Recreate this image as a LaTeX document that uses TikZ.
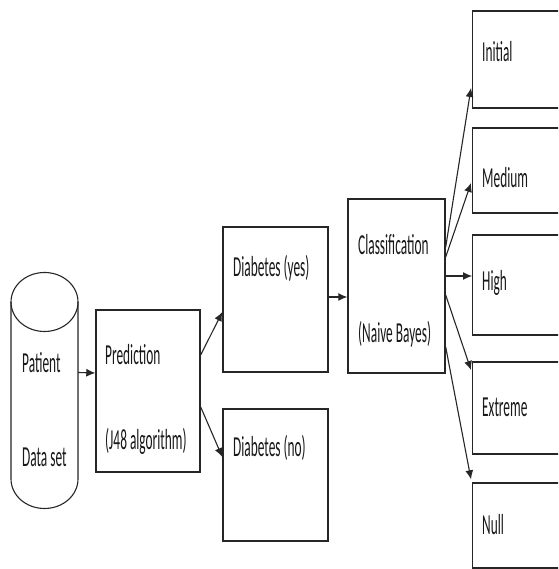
\documentclass[tikz,border=0pt]{standalone}
\usepackage{fontspec}
\setmainfont{Carlito}[FakeStretch=0.46]
\usetikzlibrary{arrows.meta}
\tikzset{
  box/.style={draw=black!85, line width=1.4pt, rectangle, inner sep=0pt},
  lbl/.style={anchor=base west, inner sep=0pt, text=black!90, font=\fontsize{29}{34}\selectfont},
  conn/.style={draw=black!85, line width=1.1pt, -{Latex[length=9pt,width=8pt]}},
}
\begin{document}
\begin{tikzpicture}[x=1pt,y=1pt]
\clip (0,0) rectangle (558,569);
\fill[white] (0,0) rectangle (558,569);
% cylinder
\node[inner sep=0pt, minimum width=67pt, minimum height=235pt] (pd) at (44.5,178.5) {};
\draw[black!85, line width=1.1pt] (11,267) -- (11,90) arc[start angle=180, end angle=360, x radius=33.5, y radius=29.5] -- (78,267);
\draw[black!85, line width=1.1pt] (44.5,267) ellipse[x radius=33.5, y radius=29.5];
\node[lbl] (pt1) at (22,196) {Patient};
\node[lbl] (pt2) at (22,102) {Data set};
% boxes
\node[box, minimum width=104pt, minimum height=162pt] (pred) at (148,178) {};
\node[lbl] (pr1) at (105,204) {Prediction};
\node[lbl] (pr2) at (105,119) {(J48 algorithm)};
\node[box, minimum width=105pt, minimum height=145pt] (yes) at (275.5,269.5) {};
\node[lbl] (y1) at (233,292) {Diabetes (yes)};
\node[box, minimum width=105pt, minimum height=132pt] (no) at (275.5,94) {};
\node[lbl] (n1) at (233,112) {Diabetes (no)};
\node[box, minimum width=97pt, minimum height=174pt] (cls) at (396.5,283) {};
\node[lbl] (c1) at (358,314) {Classification};
\node[lbl] (c2) at (358,226) {(Naive Bayes)};
\node[box, anchor=west, minimum width=100pt, minimum height=97pt] (ini) at (472,509.5) {};
\node[lbl] (t1) at (482,507) {Initial};
\node[box, anchor=west, minimum width=100pt, minimum height=85pt] (med) at (472,398.5) {};
\node[lbl] (t2) at (482,381) {Medium};
\node[box, anchor=west, minimum width=100pt, minimum height=100pt] (hig) at (472,284) {};
\node[lbl] (t3) at (482,278) {High};
\node[box, anchor=west, minimum width=100pt, minimum height=92pt] (ext) at (472,161) {};
\node[lbl] (t4) at (482,152) {Extreme};
\node[box, anchor=west, minimum width=100pt, minimum height=85pt] (nul) at (472,43.5) {};
\node[lbl] (t5) at (482,34) {Null};
% connectors
\draw[conn] ([yshift=18pt]pd.east) -- ([yshift=18pt]pred.west);
\draw[conn] ([yshift=36pt]pred.east) -- ([yshift=-12.5pt]yes.west);
\draw[conn] ([yshift=-16pt]pred.east) -- ([yshift=18pt]no.west);
\draw[conn] ([yshift=2.5pt]yes.east) -- ([yshift=2.5pt]yes.east -| cls.west);
\draw[conn] ([yshift=39pt]cls.east) -- ([yshift=-28.5pt,xshift=-1pt]ini.west);
\draw[conn] ([yshift=29pt]cls.east) -- ([yshift=-12.5pt,xshift=-1pt]med.west);
\draw[conn] ([yshift=10pt]cls.east) -- ([yshift=10pt]cls.east -| hig.west);
\draw[conn] ([yshift=-9pt]cls.east) -- ([yshift=38pt,xshift=-1pt]ext.west);
\draw[conn] ([yshift=-61pt]cls.east) -- ([yshift=3pt,xshift=-1pt]nul.north west);
\end{tikzpicture}
\end{document}
